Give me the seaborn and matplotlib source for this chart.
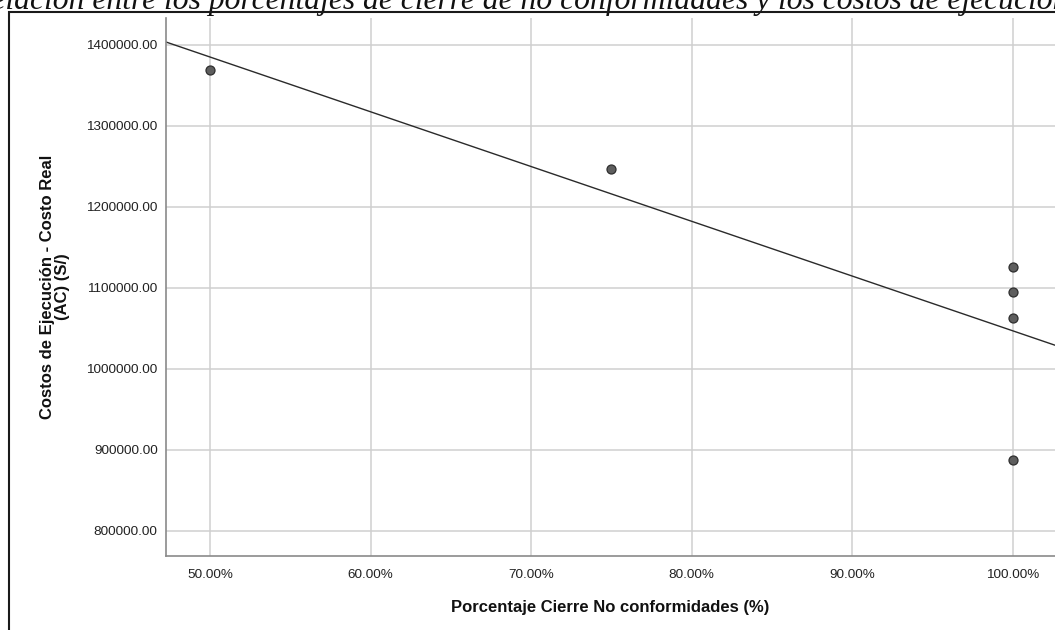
import matplotlib
matplotlib.use("Agg")
import matplotlib.pyplot as plt
import matplotlib.patches as mpatches
from matplotlib.ticker import FuncFormatter, MultipleLocator
import seaborn as sns
import pandas as pd

# Porcentaje de cierre de no conformidades (%) y costo real de ejecución (S/)
pct_cierre = [50, 75, 100, 100, 100, 100]
costo_real = [1369000, 1247000, 1126000, 1094600, 1063000, 887600]

titulo = "Relación entre los porcentajes de cierre de no conformidades y los costos de ejecución"
x_label = "Porcentaje Cierre No conformidades (%)"
y_label = "Costos de Ejecución - Costo Real\n(AC) (S/)"

df = pd.DataFrame({"pct": pct_cierre, "costo": costo_real})

sns.set_style("white")
plt.rcParams["font.family"] = ["Liberation Sans", "DejaVu Sans"]

W, H = 1055, 630
fig = plt.figure(figsize=(W / 100, H / 100), dpi=100, facecolor="white")

# Plot area in pixel units of the figure
left, right, top, bottom = 166, 1055, 18, 556
ax = fig.add_axes([left / W, (H - bottom) / H, (right - left) / W, (bottom - top) / H])

ax.set_xlim(47.26, 102.62)
ax.set_ylim(768900, 1432800)

ax.xaxis.set_major_locator(MultipleLocator(10))
ax.yaxis.set_major_locator(MultipleLocator(100000))
ax.grid(True, color="#cfcfcf", linewidth=1.1)
ax.set_axisbelow(True)

sns.regplot(
    data=df, x="pct", y="costo", ax=ax, ci=None, truncate=False,
    scatter_kws=dict(s=42, color="#5e5e5e", edgecolors="#2e2e2e", linewidths=0.9, alpha=1, zorder=3),
    line_kws=dict(color="#2a2a2a", linewidth=1.0, zorder=2),
)

ax.xaxis.set_major_formatter(FuncFormatter(lambda v, p: f"{v:.2f}%"))
ax.yaxis.set_major_formatter(FuncFormatter(lambda v, p: f"{v:.2f}"))
ax.tick_params(axis="both", length=0, labelsize=9.7, labelcolor="#222222")
ax.tick_params(axis="x", pad=9)
ax.tick_params(axis="y", pad=6)

for s in ("top", "right"):
    ax.spines[s].set_visible(False)
for s in ("left", "bottom"):
    ax.spines[s].set_color("#8a8a8a")
    ax.spines[s].set_linewidth(1.2)

ax.set_xlabel(x_label, fontsize=12, fontweight="bold", labelpad=14, color="#111111")
ax.set_ylabel(y_label, fontsize=12, fontweight="bold", labelpad=12, color="#111111",
              linespacing=1.0)

# Outer frame around the chart
frame = mpatches.Rectangle((9 / W, -0.1), 1.2, (H - 12) / H + 0.1, transform=fig.transFigure,
                           fill=False, edgecolor="#1a1a1a", linewidth=1.5, zorder=10)
fig.patches.append(frame)

# Caption above the frame, in italic serif
serif = ["Liberation Serif", "DejaVu Serif"]
title_size = 22.8
fig.canvas.draw()
renderer = fig.canvas.get_renderer()
probe = fig.text(0, 0, "Re", family=serif, style="italic", fontsize=title_size)
w_pre = probe.get_window_extent(renderer).width
probe.remove()
fig.text((6 - w_pre) / W, 1 - 8.5 / H, titulo, family=serif, style="italic", fontsize=title_size,
         ha="left", va="baseline", color="#111111")

fig.savefig("out.png", dpi=100, facecolor="white")
